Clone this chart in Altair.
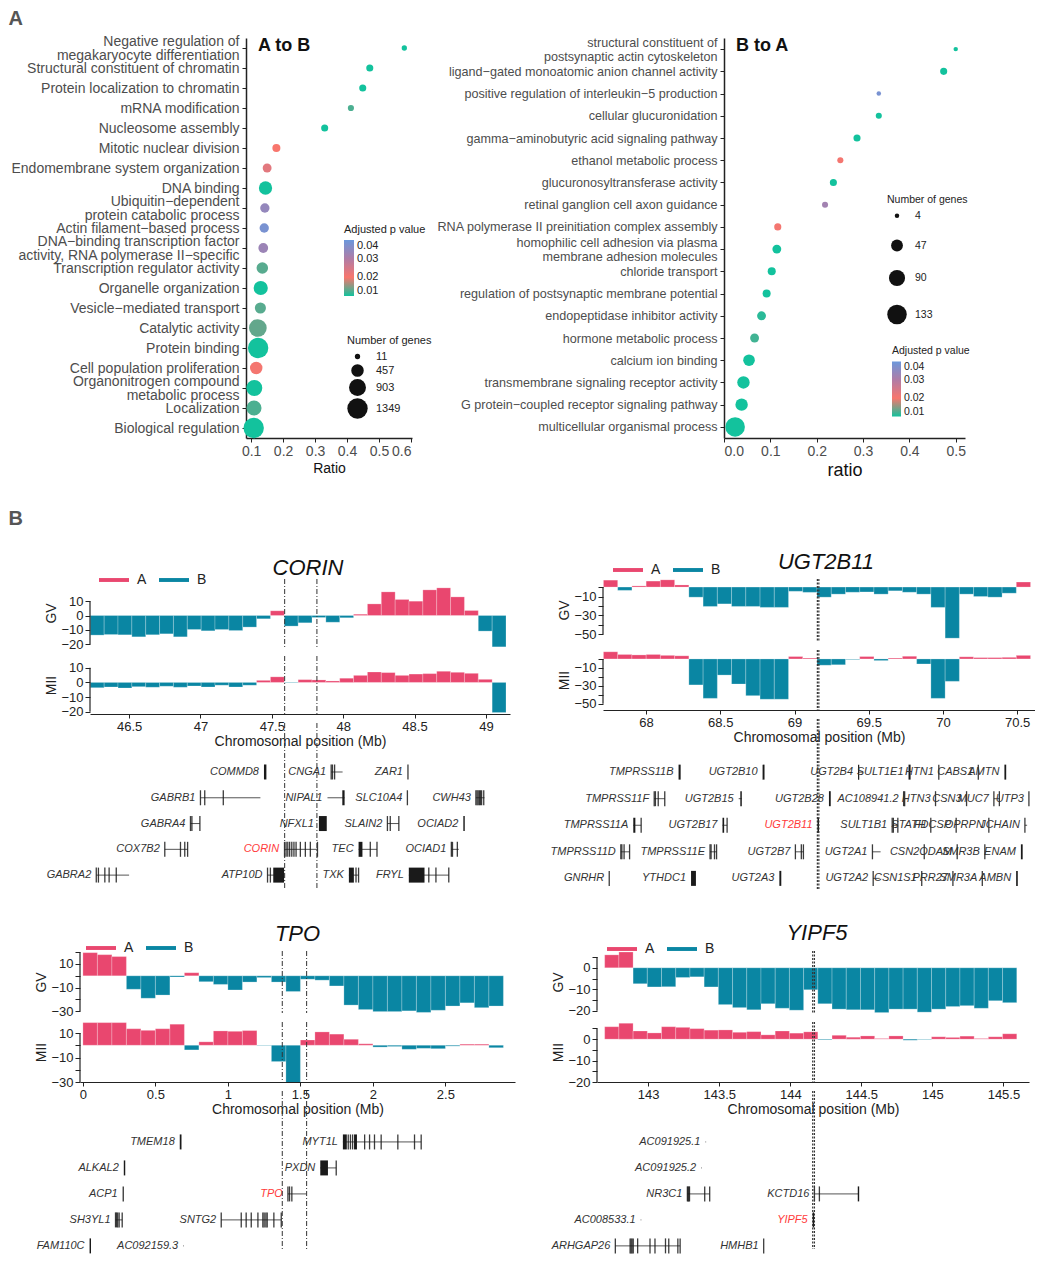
import json
import altair as alt
import pandas as pd

PINK = "#E9476F"
TEAL = "#0A86A3"
RED = "#FF3B3B"
GREY = "#333333"
PCOLS = ["#13C29D", "#F8766D", "#B07CA6", "#6B98DC"]
FONT = "Liberation Sans"

# ---------------- Panel A : A to B ----------------
termsA = [
    "Negative regulation of\nmegakaryocyte differentiation",
    "Structural constituent of chromatin",
    "Protein localization to chromatin",
    "mRNA modification",
    "Nucleosome assembly",
    "Mitotic nuclear division",
    "Endomembrane system organization",
    "DNA binding",
    "Ubiquitin\u2212dependent\nprotein catabolic process",
    "Actin filament\u2212based process",
    "DNA\u2212binding transcription factor\nactivity, RNA polymerase II\u2212specific",
    "Transcription regulator activity",
    "Organelle organization",
    "Vesicle\u2212mediated transport",
    "Catalytic activity",
    "Protein binding",
    "Cell population proliferation",
    "Organonitrogen compound\nmetabolic process",
    "Localization",
    "Biological regulation",
]
ratioA = [0.579, 0.471, 0.449, 0.412, 0.330, 0.179, 0.150, 0.145, 0.143, 0.141,
          0.138, 0.135, 0.130, 0.129, 0.121, 0.122, 0.116, 0.110, 0.109, 0.108]
padjA = [0.004, 0.004, 0.004, 0.0125, 0.004, 0.020, 0.023, 0.004, 0.034, 0.038,
         0.033, 0.013, 0.005, 0.013, 0.0135, 0.004, 0.0205, 0.004, 0.0125, 0.004]
countA = [11, 87, 87, 46, 87, 135, 187, 526, 215, 215,
          243, 374, 609, 339, 1000, 1349, 447, 792, 699, 1349]

# ---------------- Panel A : B to A ----------------
termsB = [
    "structural constituent of\npostsynaptic actin cytoskeleton",
    "ligand\u2212gated monoatomic anion channel activity",
    "positive regulation of interleukin\u22125 production",
    "cellular glucuronidation",
    "gamma\u2212aminobutyric acid signaling pathway",
    "ethanol metabolic process",
    "glucuronosyltransferase activity",
    "retinal ganglion cell axon guidance",
    "RNA polymerase II preinitiation complex assembly",
    "homophilic cell adhesion via plasma\nmembrane adhesion molecules",
    "chloride transport",
    "regulation of postsynaptic membrane potential",
    "endopeptidase inhibitor activity",
    "hormone metabolic process",
    "calcium ion binding",
    "transmembrane signaling receptor activity",
    "G protein\u2212coupled receptor signaling pathway",
    "multicellular organismal process",
]
ratioB = [0.500, 0.474, 0.334, 0.334, 0.287, 0.251, 0.236, 0.218, 0.116,
          0.114, 0.103, 0.092, 0.081, 0.066, 0.054, 0.042, 0.038, 0.024]
padjB = [0.004, 0.004, 0.038, 0.004, 0.004, 0.0205, 0.004, 0.032, 0.0205,
         0.004, 0.004, 0.004, 0.011, 0.012, 0.004, 0.004, 0.004, 0.004]
countB = [4, 15, 4, 10, 15, 10, 15, 10, 15, 25, 20, 20, 25, 25, 45, 52, 52, 133]

# ---------------- Panel B : binned GV / MII differences ----------------
corin_start, corin_bin = 46.228, 0.0971
corin_gv = [-13.7, -13.3, -13.5, -14.9, -13.5, -12.8, -14.9, -9.8, -10.7, -9.8,
            -10.5, -8.1, -2.3, 3.3, -7.4, -5.1, -1.4, -4.7, -1.6, 0.9,
            8.1, 16.5, 11.2, 10.0, 17.9, 19.3, 13.0, 3.5, -10.9, -21.9]
corin_mii = [-3.6, -3.1, -3.8, -2.9, -3.3, -2.6, -3.3, -2.4, -3.1, -1.9,
             -3.1, -1.9, 1.4, 3.8, -0.3, 1.9, 1.7, 1.0, 2.9, 4.8,
             7.1, 6.7, 4.8, 5.7, 6.0, 7.6, 6.9, 6.2, 2.1, -20.5]
corin_lines = [47.59, 47.816]

ugt_start, ugt_bin = 67.713, 0.0959
ugt_gv = [7.3, -3.5, 1.2, 6.3, 7.6, 2.2, -10.7, -20.5, -17.8, -20.5,
          -20.5, -21.5, -21.5, -4.5, -5.6, -10.7, -7.5, -5.5, -5.2, -7.5,
          -4.0, -5.5, -7.5, -21.5, -54.0, -7.5, -10.0, -10.7, -6.5, 5.3]
ugt_mii = [8.0, 5.0, 4.5, 5.0, 4.0, 3.5, -29.0, -44.0, -18.0, -28.0,
           -41.0, -45.0, -45.0, 2.7, 1.0, -7.0, -6.5, -0.5, 2.7, -1.8,
           1.0, 3.0, -5.6, -44.0, -25.0, 2.4, 1.5, 1.5, 1.8, 4.0]
ugt_lines = [69.154, 69.164]

tpo_start, tpo_bin = 0.0, 0.1
tpo_gv = [19.6, 17.9, 16.3, -11.4, -19.0, -16.3, -1.0, 2.6, -5.0, -7.3,
          -12.0, -5.3, -1.5, -5.3, -13.3, -2.9, -3.7, -8.6, -24.8, -28.6,
          -30.3, -30.3, -29.7, -31.0, -29.2, -25.6, -22.9, -27.0, -25.6]
tpo_mii = [18.5, 18.5, 18.5, 13.5, 12.2, 13.5, 17.2, -3.8, 2.8, 11.7,
           11.4, 12.0, -0.3, -13.3, -32.0, 4.3, 10.9, 9.1, 4.9, 1.2,
           -1.5, -1.0, -3.3, -2.5, -2.8, -0.7, 0.9, 0.9, -2.0]
tpo_lines = [1.375, 1.543]

yipf_start, yipf_bin = 142.694, 0.1
yipf_gv = [6.0, 7.3, -7.4, -8.9, -8.8, -4.5, -4.2, -8.9, -17.1, -18.5,
           -19.5, -16.7, -18.8, -19.7, -10.2, -16.7, -19.2, -19.5, -19.5, -20.8,
           -19.2, -19.2, -20.6, -19.2, -18.0, -17.6, -18.8, -15.3, -16.2]
yipf_mii = [5.8, 7.4, 3.8, 2.9, 5.8, 5.5, 4.9, 4.2, 4.3, 3.2,
            3.5, 2.0, 3.8, 2.8, 3.4, -0.3, 1.8, 0.9, 1.5, 0.3,
            1.5, -0.5, -0.2, 1.1, 0.8, 1.4, 0.3, 1.1, 2.5]
yipf_lines = [144.158, 144.170]

# genes: (name, row, body start, body end, exon ticks, solid exon blocks)
corin_genes = [
    ("COMMD8", 1, None, None, [], [(47.445, 47.462)]),
    ("CNGA1", 1, 47.916, 47.996, [47.916, 47.925, 47.94], []),
    ("ZAR1", 1, None, None, [48.454], []),
    ("GABRB1", 2, 47.0, 47.42, [47.0, 47.03, 47.16], []),
    ("NIPAL1", 2, 47.89, 48.01, [], [(47.994, 48.01)]),
    ("SLC10A4", 2, None, None, [48.45], []),
    ("CWH43", 2, 48.93, 48.99, [48.93, 48.938, 48.946, 48.955, 48.962, 48.97, 48.985], []),
    ("GABRA4", 3, 46.93, 46.996, [46.93, 46.94, 46.996], []),
    ("NFXL1", 3, None, None, [], [(47.83, 47.885)]),
    ("SLAIN2", 3, 48.31, 48.39, [48.31, 48.33, 48.39], []),
    ("OCIAD2", 3, None, None, [], [(48.842, 48.852)]),
    ("COX7B2", 4, 46.75, 46.91, [46.75, 46.86, 46.89, 46.91], []),
    ("CORIN", 4, 47.586, 47.82, [47.589, 47.6, 47.612, 47.625, 47.64, 47.655, 47.67,
                                 47.70, 47.735, 47.77, 47.82], []),
    ("TEC", 4, 48.108, 48.237, [48.19, 48.237], [(48.108, 48.135)]),
    ("OCIAD1", 4, 48.758, 48.81, [48.758, 48.766, 48.8], []),
    ("GABRA2", 5, 46.27, 46.5, [46.27, 46.285, 46.33, 46.36, 46.41], []),
    ("ATP10D", 5, 47.47, 47.586, [47.47, 47.49], [(47.51, 47.586)]),
    ("TXK", 5, 48.04, 48.108, [48.09, 48.108], [(48.04, 48.075)]),
    ("FRYL", 5, 48.46, 48.74, [48.6, 48.65, 48.74], [(48.46, 48.57)]),
]
ugt_genes = [
    ("TMPRSS11B", 1, None, None, [], [(68.219, 68.233)]),
    ("UGT2B10", 1, None, None, [], [(68.785, 68.798)]),
    ("UGT2B4", 1, 69.428, 69.463, [], [(69.428, 69.436)]),
    ("SULT1E1", 1, None, None, [], [(69.768, 69.782)]),
    ("HTN1", 1, None, None, [69.972], []),
    ("CABS1", 1, None, None, [70.238], []),
    ("AMTN", 1, None, None, [], [(70.414, 70.426)]),
    ("TMPRSS11F", 2, 68.055, 68.126, [68.055, 68.063, 68.082, 68.126], []),
    ("UGT2B15", 2, 68.624, 68.645, [], [(68.635, 68.645)]),
    ("UGT2B28", 2, None, None, [], [(69.232, 69.244)]),
    ("AC108941.2", 2, 69.735, 69.768, [69.735, 69.742], []),
    ("HTN3", 2, None, None, [69.950], []),
    ("CSN3", 2, None, None, [70.159], []),
    ("MUC7", 2, 70.343, 70.380, [70.343, 70.380], []),
    ("UTP3", 2, None, None, [70.579], []),
    ("TMPRSS11A", 3, 67.914, 67.967, [67.967], [(67.914, 67.928)]),
    ("UGT2B17", 3, 68.515, 68.546, [68.546], [(68.515, 68.526)]),
    ("UGT2B11", 3, None, None, [], [(69.155, 69.165)]),
    ("SULT1B1", 3, 69.658, 69.696, [69.658, 69.666, 69.696], []),
    ("STATH", 3, None, None, [69.918], []),
    ("FDCSP", 3, None, None, [70.089], []),
    ("OPRPN", 3, None, None, [70.309], []),
    ("JCHAIN", 3, 70.552, 70.567, [70.552], []),
    ("TMPRSS11D", 4, 67.830, 67.889, [67.830, 67.837, 67.852, 67.889], []),
    ("TMPRSS11E", 4, 68.431, 68.475, [68.431, 68.438, 68.461, 68.475], []),
    ("UGT2B7", 4, 69.006, 69.060, [69.006, 69.046, 69.060], []),
    ("UGT2A1", 4, 69.525, 69.580, [69.525], []),
    ("CSN2", 4, None, None, [69.874], []),
    ("ODAM", 4, None, None, [70.096], []),
    ("SMR3B", 4, None, None, [70.282], []),
    ("ENAM", 4, None, None, [], [(70.525, 70.537)]),
    ("GNRHR", 5, None, None, [67.752], []),
    ("YTHDC1", 5, None, None, [], [(68.303, 68.336)]),
    ("UGT2A3", 5, None, None, [], [(68.898, 68.911)]),
    ("UGT2A2", 5, 69.530, 69.574, [69.530], []),
    ("CSN1S1", 5, None, None, [69.857], []),
    ("PRR27", 5, None, None, [70.067], []),
    ("SMR3A", 5, None, None, [70.265], []),
    ("AMBN", 5, None, None, [], [(70.493, 70.504)]),
]
tpo_genes = [
    ("TMEM18", 1, None, None, [], [(0.668, 0.68)]),
    ("MYT1L", 1, 1.793, 2.333, [1.83, 1.845, 1.86, 1.943, 1.977, 2.011, 2.057, 2.172, 2.287, 2.333],
     [(1.793, 1.82), (1.87, 1.89)]),
    ("ALKAL2", 2, None, None, [], [(0.282, 0.292)]),
    ("PXDN", 2, 1.637, 1.747, [1.747], [(1.637, 1.69)]),
    ("ACP1", 3, None, None, [], [(0.274, 0.282)]),
    ("TPO", 3, 1.414, 1.54, [1.414, 1.425, 1.441], []),
    ("SH3YL1", 4, 0.225, 0.271, [0.225, 0.232, 0.24, 0.25, 0.271], []),
    ("SNTG2", 4, 0.954, 1.368, [0.954, 1.092, 1.126, 1.161, 1.207, 1.241, 1.25, 1.262, 1.271,
                                1.317, 1.368], []),
    ("FAM110C", 5, None, None, [], [(0.046, 0.056)]),
    ("AC092159.3", 5, 0.692, 0.697, [], []),
]
yipf_genes = [
    ("AC091925.1", 1, 143.403, 143.408, [], []),
    ("AC091925.2", 2, 143.373, 143.378, [], []),
    ("NR3C1", 3, 143.276, 143.433, [143.276, 143.281, 143.286, 143.291, 143.398, 143.433], []),
    ("KCTD16", 3, 144.17, 144.481, [144.17, 144.205], [(144.475, 144.485)]),
    ("AC008533.1", 4, 142.947, 142.952, [], []),
    ("YIPF5", 4, None, None, [], [(144.158, 144.168)]),
    ("ARHGAP26", 5, 142.769, 143.225, [142.769, 142.873, 142.88, 142.887, 142.895, 142.926,
                                      143.013, 143.048, 143.122, 143.145, 143.209, 143.225], []),
    ("HMHB1", 5, None, None, [143.813], []),
]


# ---------------- builders ----------------
def dot_chart(terms, ratio, padj, count, xdom, xvals, xtitle, xtitle_size, lab_size, line_h, width,
              height, tag, size_dom, size_rng, size_vals, size_xy, size_rowpad, color_xy, leg_fs,
              grad_len, grad_th):
    df = pd.DataFrame({"term": terms, "ratio": ratio, "padj": padj, "count": count})
    two_line = "indexof(datum.value, '\\n') >= 0"
    pts = alt.Chart(df).mark_circle(opacity=1).encode(
        x=alt.X("ratio:Q", scale=alt.Scale(domain=xdom, nice=False, zero=False),
                axis=alt.Axis(values=xvals, format=".1f", title=xtitle, titleFontSize=xtitle_size,
                              titleFontWeight="normal", titleColor="#111", titlePadding=3,
                              labelFontSize=14, labelColor="#4d4d4d", labelPadding=2,
                              tickSize=4, tickColor="#222", domainColor="#222", domainWidth=1.5,
                              grid=False)),
        y=alt.Y("term:N", sort=terms,
                axis=alt.Axis(title=None, labelFontSize=lab_size, labelColor="#4d4d4d", labelLimit=500,
                              labelExpr="split(datum.label, '\\n')", labelLineHeight=line_h,
                              labelOffset=alt.condition(two_line, alt.value(-line_h / 2),
                                                        alt.value(0)),
                              labelPadding=3, tickSize=4, tickColor="#222", domainColor="#222",
                              domainWidth=1.5, labelOverlap=False, grid=False)),
        color=alt.Color("padj:Q",
                        scale=alt.Scale(domain=[0.01, 0.02, 0.03, 0.04], range=PCOLS, clamp=True,
                                        interpolate="rgb"),
                        legend=alt.Legend(title="Adjusted p value", orient="none",
                                          legendX=color_xy[0], legendY=color_xy[1],
                                          values=[0.01, 0.02, 0.03, 0.04], format=".2f",
                                          gradientLength=grad_len, gradientThickness=grad_th,
                                          titleFontSize=leg_fs, titleFontWeight="normal",
                                          labelFontSize=leg_fs, titleColor="#222", labelColor="#222",
                                          titlePadding=5, labelOffset=3, gradientStrokeWidth=0)),
        size=alt.Size("count:Q", scale=alt.Scale(domain=size_dom, range=size_rng),
                      legend=alt.Legend(title="Number of genes", orient="none", format="d",
                                        legendX=size_xy[0], legendY=size_xy[1], values=size_vals,
                                        symbolFillColor="#111", symbolStrokeColor="#111",
                                        symbolStrokeWidth=0, titleFontSize=leg_fs,
                                        titleFontWeight="normal", labelFontSize=leg_fs,
                                        titleColor="#222", labelColor="#222",
                                        rowPadding=size_rowpad, labelOffset=8)),
    )
    txt = alt.Chart(pd.DataFrame({"t": [tag]})).mark_text(
        align="left", baseline="top", fontSize=18, fontWeight="bold", color="#111"
    ).encode(text="t:N", x=alt.value(12), y=alt.value(-1))
    return alt.layer(pts, txt).properties(width=width, height=height)


def bar_layer(start, binw, vals, xdom, ydom, yvals, ylabs, ytitle, lines, dash, dashw, xaxis, legend):
    n = len(vals)
    s = [round(start + binw * i, 4) for i in range(n)]
    df = pd.DataFrame({"s": s, "e": [round(v + binw, 4) for v in s], "v": vals, "z": [0.0] * n,
                       "grp": ["A" if v > 0 else "B" for v in vals]})
    xs = alt.Scale(domain=xdom, nice=False, zero=False)
    ys = alt.Scale(domain=ydom, nice=False, zero=False)
    lab_expr = "indexof(%s, datum.value) >= 0 ? datum.label : ''" % json.dumps(ylabs)
    yaxis = alt.Axis(values=yvals, labelExpr=lab_expr, title=ytitle, titleFontSize=14,
                     titleFontWeight="normal", titleColor="#222", titlePadding=2,
                     labelFontSize=13, labelColor="#222", labelPadding=2, tickSize=5,
                     tickColor="#222", domainOpacity=0, grid=False)
    bars = alt.Chart(df).mark_bar(clip=True, stroke="white", strokeWidth=0.4, strokeOpacity=0.6).encode(
        x=alt.X("s:Q", scale=xs, axis=xaxis),
        x2="e:Q",
        y=alt.Y("v:Q", scale=ys, axis=yaxis),
        y2="z:Q",
        color=alt.Color("grp:N", scale=alt.Scale(domain=["A", "B"], range=[PINK, TEAL]), legend=legend),
    )
    # capped y-axis line, spanning the tick range only
    axis_line = alt.Chart(pd.DataFrame({"a": [max(yvals)], "b": [min(yvals)]})).mark_rule(
        color="#222", strokeWidth=1.2).encode(
        x=alt.value(0), y=alt.Y("a:Q", scale=ys, axis=yaxis), y2="b:Q")
    rules = alt.Chart(pd.DataFrame({"p": lines})).mark_rule(
        strokeDash=dash, strokeWidth=dashw, color="#333").encode(x=alt.X("p:Q", scale=xs, axis=xaxis))
    return [bars, axis_line, rules]


def gene_layer(genes, target, xdom, width, height, ydom, lines, dash, dashw):
    body, tick, block, lab = [], [], [], []
    for name, row, a, b, ticks, blocks in genes:
        starts = ([a] if a is not None else []) + list(ticks) + [bb[0] for bb in blocks]
        lab.append({"name": name, "row": row, "lx": min(starts), "hl": int(name == target)})
        if a is not None:
            body.append({"row": row, "a": a, "b": b})
        for t in ticks:
            tick.append({"row": row, "p": t})
        for bb in blocks:
            block.append({"row": row, "a": bb[0], "b": bb[1]})
    xs = alt.Scale(domain=xdom, nice=False, zero=False)
    ys = alt.Scale(domain=ydom, nice=False, zero=False)
    layers = []
    if body:
        layers.append(alt.Chart(pd.DataFrame(body)).mark_rule(color="#555", strokeWidth=1).encode(
            x=alt.X("a:Q", scale=xs, axis=None), x2="b:Q", y=alt.Y("row:Q", scale=ys, axis=None)))
    if block:
        layers.append(alt.Chart(pd.DataFrame(block)).mark_rule(
            color="#1a1a1a", strokeWidth=15, strokeCap="butt").encode(
            x=alt.X("a:Q", scale=xs, axis=None), x2="b:Q", y=alt.Y("row:Q", scale=ys, axis=None)))
    if tick:
        layers.append(alt.Chart(pd.DataFrame(tick)).mark_tick(
            orient="vertical", size=15, thickness=1.3, color="#1a1a1a", opacity=0.85).encode(
            x=alt.X("p:Q", scale=xs, axis=None), y=alt.Y("row:Q", scale=ys, axis=None)))
    layers.append(alt.Chart(pd.DataFrame(lab)).mark_text(
        align="right", baseline="middle", dx=-5, fontSize=11, fontStyle="italic").encode(
        x=alt.X("lx:Q", scale=xs, axis=None), y=alt.Y("row:Q", scale=ys, axis=None),
        text="name:N",
        color=alt.condition(alt.datum.hl == 1, alt.value(RED), alt.value(GREY))))
    layers.append(alt.Chart(pd.DataFrame({"p": lines})).mark_rule(
        strokeDash=dash, strokeWidth=dashw, color="#333").encode(x=alt.X("p:Q", scale=xs, axis=None)))
    return alt.layer(*layers).properties(width=width, height=height)


def panel(title, title_xy, start, binw, gv, mii, genes, xdom, width, xticks,
          gv_h, gv_dom, gv_vals, gv_labs, mii_h, mii_dom, mii_vals, mii_labs,
          lines, dash, dashw, leg_xy, gene_h, gene_dom):
    legend = alt.Legend(title=None, orient="none", legendX=leg_xy[0], legendY=leg_xy[1],
                        direction="horizontal", symbolType="M-1,-0.13H1V0.13H-1Z", symbolSize=900,
                        symbolStrokeWidth=0, labelFontSize=14, labelColor="#222", columnPadding=12,
                        labelOffset=8)
    gv_parts = bar_layer(start, binw, gv, xdom, gv_dom, gv_vals, gv_labs, "GV", lines, dash, dashw,
                         None, legend)
    ttl = alt.Chart(pd.DataFrame({"t": [title]})).mark_text(
        align="center", baseline="alphabetic", fontSize=22, fontStyle="italic", color="#111"
    ).encode(text="t:N", x=alt.value(width / 2 + title_xy[0]), y=alt.value(title_xy[1]))
    gv_l = alt.layer(*gv_parts, ttl).properties(width=width, height=gv_h)
    xaxis = alt.Axis(values=xticks, labelExpr="'' + datum.value", title="Chromosomal position (Mb)",
                     titleFontSize=14, titleFontWeight="normal", titleColor="#222", titlePadding=1,
                     labelFontSize=13, labelColor="#222", labelPadding=2, tickSize=4,
                     tickColor="#222", domainColor="#222", domainWidth=1.2, grid=False)
    mii_l = alt.layer(*bar_layer(start, binw, mii, xdom, mii_dom, mii_vals, mii_labs, "MII",
                                 lines, dash, dashw, xaxis, None)).properties(width=width, height=mii_h)
    gene_l = gene_layer(genes, title, xdom, width, gene_h, gene_dom, lines, dash, dashw)
    return alt.vconcat(gv_l, mii_l, gene_l, spacing=9, bounds="flush").resolve_scale(color="independent")


DASHDOT = [5, 2, 1, 2]
DOTTED = [2, 1.5]

corin = panel("CORIN", (8, -4), corin_start, corin_bin, corin_gv, corin_mii, corin_genes,
              [46.226, 49.169], 420, [46.5, 47, 47.5, 48, 48.5, 49],
              68, [-22, 25.5], [10, 0, -10, -20], [10, 0, -10, -20],
              58, [-21.5, 18], [10, 0, -10, -20], [10, 0, -10, -20],
              corin_lines, DASHDOT, 1, (9, -14), 165, [5.5, -0.9])
ugt = panel("UGT2B11", (7, -10), ugt_start, ugt_bin, ugt_gv, ugt_mii, ugt_genes,
            [67.71, 70.62], 432, [68, 68.5, 69, 69.5, 70, 70.5],
            62, [-57, 8.5], [0, -10, -20, -30, -40, -50], [-10, -30, -50],
            60, [-57, 10], [0, -10, -20, -30, -40, -50], [-10, -30, -50],
            ugt_lines, DOTTED, 1.2, (10, -24), 170, [5.4, -1.0])
tpo = panel("TPO", (0, -10), tpo_start, tpo_bin, tpo_gv, tpo_mii, tpo_genes,
            [-0.02, 2.98], 435, [0, 0.5, 1, 1.5, 2, 2.5],
            62, [-31.5, 21], [20, 10, 0, -10, -20, -30], [10, -10, -30],
            60, [-30, 19], [10, 0, -10, -20, -30], [10, -10, -30],
            tpo_lines, DASHDOT, 1, (6, -18), 158, [5.12, -0.96])
yipf = panel("YIPF5", (4, -11), yipf_start, yipf_bin, yipf_gv, yipf_mii, yipf_genes,
             [142.64, 145.68], 432, [143, 143.5, 144, 144.5, 145, 145.5],
             62, [-21, 7.8], [5, 0, -5, -10, -15, -20], [0, -10, -20],
             60, [-20, 8], [5, 0, -5, -10, -15, -20], [0, -10, -20],
             yipf_lines, DOTTED, 1.2, (10, -17), 158, [5.12, -0.96])

dotA = dot_chart(termsA, ratioA, padjA, countA, [0.084, 0.603], [0.1, 0.2, 0.3, 0.4, 0.5, 0.6],
                 "Ratio", 14, 14, 14, 166, 400, "A to B", [11, 1349], [28, 415],
                 [11, 457, 903, 1349], (101, 297), 2, (98, 186), 11, 56, 10)
dotB = dot_chart(termsB, ratioB, padjB, countB, [0.0, 0.52], [0.0, 0.1, 0.2, 0.3, 0.4, 0.5],
                 "ratio", 18, 12.6, 14, 241, 400, "B to A", [4, 133], [20, 380],
                 [4, 47, 90, 133], (163, 157), 18, (168, 308), 10.5, 55, 9)


def spacer():
    return alt.Chart(pd.DataFrame({"a": [0]})).mark_point(opacity=0, size=1).encode(
        x=alt.value(0), y=alt.value(0)).properties(width=1, height=1)


rowA = alt.hconcat(
    spacer(), alt.hconcat(dotA, dotB, spacing=4).resolve_scale(color="independent", size="independent"),
    spacing=0,
    title=alt.TitleParams("A", anchor="start", fontSize=20, fontWeight="bold", color="#555", offset=5)
).resolve_scale(color="independent", size="independent")
rowB1 = alt.hconcat(spacer(), alt.hconcat(corin, ugt, spacing=40).resolve_scale(color="independent"),
                    spacing=34).resolve_scale(color="independent")
rowB2 = alt.hconcat(spacer(), alt.hconcat(tpo, yipf, spacing=36).resolve_scale(color="independent"),
                    spacing=24).resolve_scale(color="independent")
rowB = alt.vconcat(rowB1, rowB2, spacing=32,
                   title=alt.TitleParams("B", anchor="start", fontSize=20, fontWeight="bold",
                                         color="#555", offset=22)
                   ).resolve_scale(color="independent")

chart = alt.vconcat(rowA, rowB, spacing=30).resolve_scale(
    color="independent", size="independent"
).properties(
    padding={"left": 0, "top": 1, "right": 0, "bottom": 0}
).configure(font=FONT).configure_view(stroke=None)

chart.save("out.html", embed_options={"renderer": "svg", "actions": False})
